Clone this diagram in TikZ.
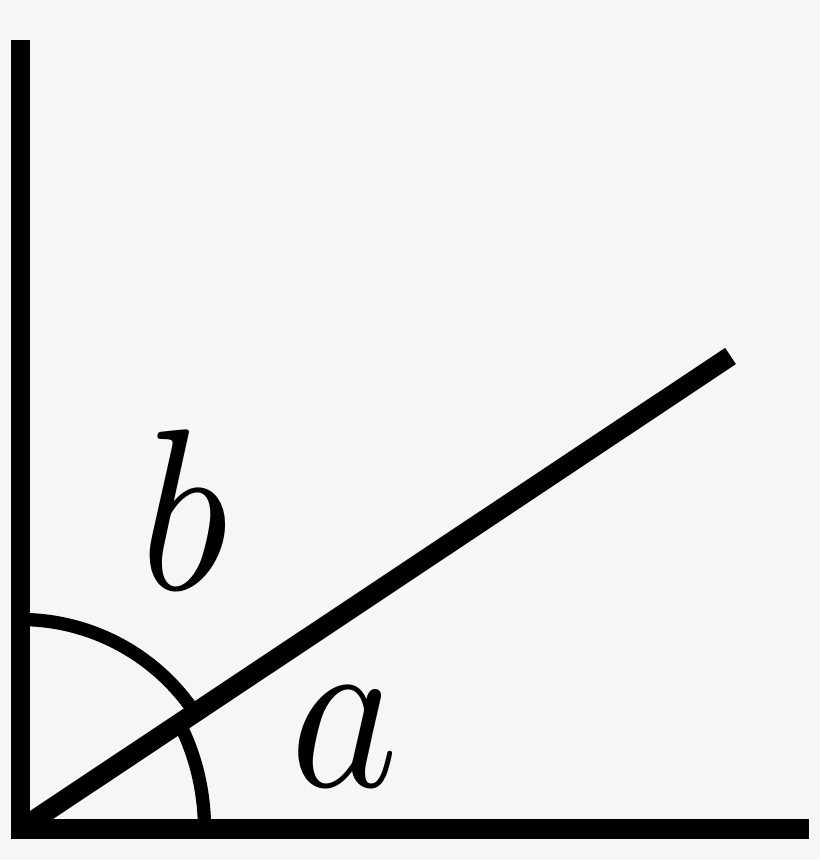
\documentclass[tikz,border=0pt]{standalone}
\usepackage{graphicx}
\definecolor{paper}{HTML}{F6F6F6}
\begin{document}
\begin{tikzpicture}[
    x=1pt, y=1pt,
    leg/.style={line width=19.5pt},
    anglearc/.style={line width=13.3pt},
    letter/.style={inner sep=0pt, outer sep=0pt},
  ]
  \fill[paper] (0,0) rectangle (820,860);
  \useasboundingbox (0,0) rectangle (820,860);
  \coordinate (O) at (20.5,31);
  \coordinate (topEnd) at (20.5,820);
  \coordinate (rightEnd) at (809,31);
  \coordinate (rayEnd) at (730.5,504);
  % arc of angle a, then arc of angle b
  \draw[anglearc] (O) ++(184,0) arc[start angle=0, end angle=32, x radius=184, y radius=209.5];
  \draw[anglearc] (O) ++(32:209.5) arc[start angle=32, end angle=90, radius=209.5];
  \draw[leg] (topEnd) -- (O) -- (rightEnd);
  \draw[leg] (O) -- (rayEnd);
  \node[letter] (labelB) at (184,350) {\scalebox{20.5}[23]{$b$}};
  \node[letter] (labelA) at (345,123.5) {\scalebox{20.5}[23]{$a$}};
\end{tikzpicture}
\end{document}
